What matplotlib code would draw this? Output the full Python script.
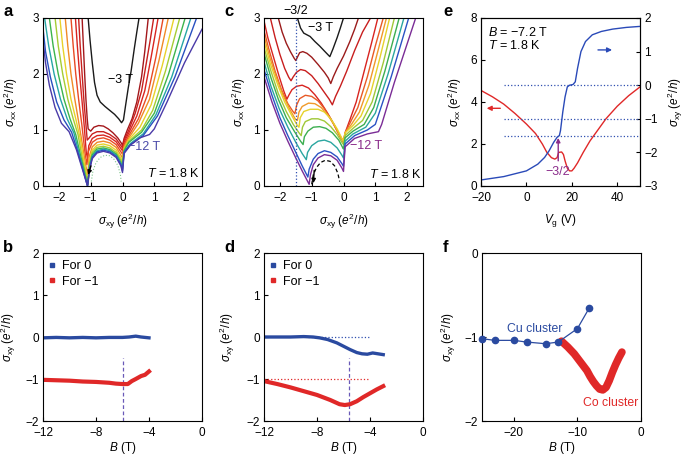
import matplotlib
matplotlib.use("Agg")
import matplotlib.pyplot as plt
from matplotlib.lines import Line2D

plt.rcParams['font.family'] = ['Liberation Sans', 'DejaVu Sans']
plt.rcParams['mathtext.fontset'] = 'custom'
plt.rcParams['mathtext.rm'] = 'Liberation Sans'
plt.rcParams['mathtext.it'] = 'Liberation Sans:italic'
plt.rcParams['font.size'] = 8.5
plt.rcParams['axes.linewidth'] = 0.8

# ---- panel a : sigma_xx vs sigma_xy, -3 T (black) ... -12 T
a_colors = ['#1a1a1a', '#a3171b', '#c8201e', '#d82420', '#e84a24', '#f08a26',
            '#e8d22a', '#a6cc34', '#3cb44c', '#26a6a6', '#2850c0', '#4a3aa8']
a_c0 = [(-1.08, 3.0), (-1.02, 2.6), (-0.95, 2.2), (-0.88, 1.85), (-0.8, 1.62), (-0.7, 1.5),
        (-0.55, 1.42), (-0.4, 1.35), (-0.25, 1.28), (-0.12, 1.2), (-0.03, 1.13), (0.03, 1.18),
        (0.1, 1.45), (0.18, 1.75), (0.27, 2.05), (0.37, 2.45), (0.45, 2.75), (0.52, 3.0)]
a_c1 = [(-1.27, 3.0), (-1.23, 2.5), (-1.19, 2.0), (-1.15, 1.55), (-1.11, 1.2), (-1.08, 1.02),
        (-1.0, 0.98), (-0.9, 1.05), (-0.75, 1.08), (-0.6, 1.07), (-0.45, 1.02), (-0.3, 0.95),
        (-0.15, 0.86), (-0.03, 0.76), (0.0, 0.72), (0.05, 0.85), (0.15, 1.0), (0.3, 1.2),
        (0.45, 1.5), (0.6, 1.95), (0.7, 2.4), (0.81, 3.0)]
a_c2 = [(-1.38, 3.0), (-1.33, 2.5), (-1.27, 2.0), (-1.21, 1.5), (-1.15, 1.1), (-1.11, 0.82),
        (-1.06, 0.85), (-0.95, 0.93), (-0.8, 0.97), (-0.6, 0.97), (-0.4, 0.92), (-0.2, 0.84),
        (-0.05, 0.72), (0.0, 0.68), (0.05, 0.82), (0.2, 1.0), (0.4, 1.3), (0.6, 1.7),
        (0.75, 2.2), (0.87, 2.6), (0.98, 3.0)]
a_c3 = [(-1.48, 3.0), (-1.42, 2.5), (-1.35, 2.0), (-1.27, 1.5), (-1.2, 1.05), (-1.14, 0.6),
        (-1.1, 0.5), (-1.06, 0.72), (-0.95, 0.85), (-0.8, 0.9), (-0.6, 0.91), (-0.4, 0.87),
        (-0.2, 0.79), (-0.05, 0.67), (0.0, 0.63), (0.05, 0.78), (0.2, 0.95), (0.45, 1.25),
        (0.7, 1.7), (0.9, 2.3), (1.12, 3.0)]
a_c4 = [(-1.62, 3.0), (-1.55, 2.5), (-1.47, 2.0), (-1.38, 1.55), (-1.28, 1.1), (-1.18, 0.6),
        (-1.12, 0.38), (-1.07, 0.62), (-0.95, 0.78), (-0.8, 0.84), (-0.6, 0.86), (-0.4, 0.82),
        (-0.2, 0.74), (-0.05, 0.61), (0.0, 0.57), (0.05, 0.74), (0.2, 0.9), (0.5, 1.2),
        (0.8, 1.65), (1.05, 2.3), (1.28, 3.0)]
a_c5 = [(-1.8, 3.0), (-1.72, 2.5), (-1.62, 2.0), (-1.5, 1.55), (-1.38, 1.15), (-1.25, 0.7),
        (-1.15, 0.35), (-1.09, 0.2), (-1.05, 0.52), (-0.95, 0.7), (-0.8, 0.78), (-0.6, 0.8),
        (-0.4, 0.77), (-0.2, 0.69), (-0.05, 0.55), (0.0, 0.5), (0.05, 0.7), (0.2, 0.86),
        (0.5, 1.12), (0.85, 1.55), (1.15, 2.25), (1.44, 3.0)]
a_c6 = [(-1.97, 3.0), (-1.88, 2.5), (-1.76, 2.0), (-1.62, 1.55), (-1.47, 1.2), (-1.33, 0.85),
        (-1.2, 0.4), (-1.08, 0.08), (-1.04, 0.45), (-0.95, 0.64), (-0.8, 0.73), (-0.6, 0.75),
        (-0.4, 0.72), (-0.2, 0.64), (-0.05, 0.5), (0.0, 0.44), (0.05, 0.67), (0.2, 0.83),
        (0.55, 1.05), (0.9, 1.45), (1.25, 2.15), (1.62, 3.0)]
a_c7 = [(-2.12, 3.0), (-2.02, 2.5), (-1.88, 2.0), (-1.72, 1.55), (-1.55, 1.2), (-1.4, 0.92),
        (-1.25, 0.45), (-1.08, 0.03), (-1.04, 0.4), (-0.95, 0.6), (-0.8, 0.69), (-0.6, 0.71),
        (-0.4, 0.68), (-0.2, 0.6), (-0.05, 0.46), (0.0, 0.4), (0.05, 0.65), (0.2, 0.8),
        (0.6, 1.0), (0.95, 1.35), (1.35, 2.05), (1.8, 3.0)]
a_c8 = [(-2.3, 3.0), (-2.18, 2.5), (-2.02, 2.0), (-1.84, 1.55), (-1.65, 1.2), (-1.47, 0.92),
        (-1.3, 0.5), (-1.1, 0.02), (-1.04, 0.36), (-0.95, 0.56), (-0.8, 0.66), (-0.6, 0.68),
        (-0.4, 0.65), (-0.2, 0.57), (-0.05, 0.42), (0.0, 0.35), (0.05, 0.63), (0.2, 0.78),
        (0.6, 0.96), (1.0, 1.3), (1.45, 2.0), (1.97, 3.0)]
a_c9 = [(-2.45, 3.0), (-2.32, 2.5), (-2.15, 2.0), (-1.95, 1.55), (-1.74, 1.2), (-1.53, 0.95),
        (-1.35, 0.55), (-1.1, 0.0), (-1.04, 0.32), (-0.95, 0.53), (-0.8, 0.63), (-0.6, 0.66),
        (-0.4, 0.63), (-0.2, 0.55), (-0.05, 0.4), (0.0, 0.3), (0.05, 0.61), (0.25, 0.76),
        (0.65, 0.93), (1.05, 1.27), (1.55, 1.95), (2.15, 3.0)]
a_c10 = [(-2.5, 2.82), (-2.42, 2.4), (-2.27, 1.95), (-2.07, 1.5), (-1.84, 1.18), (-1.6, 0.96),
         (-1.4, 0.6), (-1.1, 0.0), (-1.04, 0.3), (-0.95, 0.51), (-0.8, 0.61), (-0.6, 0.64),
         (-0.4, 0.61), (-0.2, 0.53), (-0.05, 0.38), (0.0, 0.27), (0.05, 0.6), (0.25, 0.74),
         (0.65, 0.9), (1.1, 1.25), (1.65, 1.95), (2.33, 3.0)]
a_c11 = [(-2.5, 2.6), (-2.42, 2.2), (-2.3, 1.8), (-2.12, 1.4), (-1.92, 1.12), (-1.68, 0.97),
         (-1.45, 0.65), (-1.1, 0.0), (-1.04, 0.28), (-0.95, 0.49), (-0.8, 0.59), (-0.6, 0.62),
         (-0.4, 0.59), (-0.2, 0.51), (-0.05, 0.36), (0.0, 0.24), (0.05, 0.58), (0.25, 0.73),
         (0.55, 0.86), (0.85, 0.92), (1.0, 1.02), (1.4, 1.5), (1.95, 2.2), (2.5, 2.8)]
a_curves = [a_c0, a_c1, a_c2, a_c3, a_c4, a_c5, a_c6, a_c7, a_c8, a_c9, a_c10, a_c11]
a_arc = [(-0.98, 0.08), (-0.93, 0.27), (-0.83, 0.42), (-0.7, 0.51), (-0.55, 0.55),
         (-0.4, 0.54), (-0.27, 0.48), (-0.15, 0.37), (-0.07, 0.22), (-0.04, 0.08)]

# ---- panel c
c_colors = ['#1a1a1a', '#9b1b1b', '#c81e1e', '#d82420', '#e85a26', '#f09a2a',
            '#e6d22c', '#a0c838', '#3cae50', '#2aa6a0', '#2a52c4', '#7a2c96']
c_c0 = [(-1.45, 3.0), (-1.35, 2.82), (-1.25, 2.73), (-1.15, 2.7), (-1.05, 2.67), (-0.9, 2.58),
        (-0.75, 2.5), (-0.6, 2.41), (-0.43, 2.31), (-0.33, 2.45), (-0.2, 2.65), (-0.1, 2.82),
        (0.0, 3.0)]
c_c1 = [(-2.05, 3.0), (-1.93, 2.75), (-1.8, 2.55), (-1.67, 2.4), (-1.55, 2.28), (-1.5, 2.24),
        (-1.45, 2.3), (-1.38, 2.38), (-1.28, 2.4), (-1.15, 2.37), (-1.0, 2.3), (-0.8, 2.17),
        (-0.6, 2.03), (-0.48, 1.93), (-0.4, 1.83), (-0.32, 1.95), (-0.2, 2.1), (0.0, 2.32),
        (0.2, 2.58), (0.35, 2.8), (0.47, 3.0)]
c_c2 = [(-2.3, 3.0), (-2.15, 2.65), (-2.0, 2.35), (-1.85, 2.1), (-1.72, 1.94), (-1.65, 1.88),
        (-1.58, 1.95), (-1.48, 2.03), (-1.35, 2.08), (-1.2, 2.06), (-1.0, 1.97), (-0.8, 1.83),
        (-0.6, 1.67), (-0.45, 1.55), (-0.35, 1.45), (-0.25, 1.6), (-0.1, 1.78), (0.1, 2.05),
        (0.35, 2.42), (0.6, 2.75), (0.85, 3.0)]
c_c3 = [(-2.5, 2.95), (-2.38, 2.65), (-2.2, 2.3), (-2.02, 1.95), (-1.88, 1.7), (-1.78, 1.55),
        (-1.72, 1.62), (-1.62, 1.72), (-1.48, 1.78), (-1.3, 1.8), (-1.1, 1.75), (-0.9, 1.63),
        (-0.7, 1.48), (-0.5, 1.3), (-0.3, 1.1), (-0.12, 0.9), (0.0, 0.79), (0.05, 0.95),
        (0.2, 1.18), (0.4, 1.5), (0.65, 2.05), (0.88, 2.55), (1.08, 3.0)]
c_c4 = [(-2.5, 2.78), (-2.35, 2.45), (-2.15, 2.05), (-1.95, 1.72), (-1.75, 1.47), (-1.6, 1.34),
        (-1.53, 1.29), (-1.47, 1.45), (-1.38, 1.56), (-1.2, 1.62), (-1.0, 1.6), (-0.8, 1.52),
        (-0.6, 1.38), (-0.4, 1.2), (-0.2, 0.98), (-0.05, 0.83), (0.0, 0.78), (0.05, 0.95),
        (0.2, 1.12), (0.45, 1.4), (0.75, 1.95), (1.0, 2.5), (1.25, 3.0)]
c_c5 = [(-2.5, 2.68), (-2.32, 2.3), (-2.1, 1.92), (-1.9, 1.62), (-1.7, 1.38), (-1.52, 1.2),
        (-1.45, 1.17), (-1.4, 1.32), (-1.3, 1.42), (-1.1, 1.48), (-0.9, 1.47), (-0.7, 1.4),
        (-0.5, 1.27), (-0.3, 1.1), (-0.12, 0.9), (0.0, 0.79), (0.05, 0.95), (0.25, 1.1),
        (0.5, 1.32), (0.8, 1.8), (1.1, 2.45), (1.35, 3.0)]
c_c6 = [(-2.5, 2.58), (-2.3, 2.18), (-2.05, 1.78), (-1.85, 1.5), (-1.62, 1.25), (-1.45, 1.08),
        (-1.4, 1.05), (-1.36, 1.22), (-1.25, 1.33), (-1.05, 1.37), (-0.8, 1.37), (-0.6, 1.32),
        (-0.4, 1.2), (-0.2, 1.02), (-0.05, 0.85), (0.0, 0.8), (0.05, 0.95), (0.3, 1.08),
        (0.55, 1.25), (0.85, 1.65), (1.15, 2.3), (1.45, 3.0)]
c_c7 = [(-2.5, 2.47), (-2.28, 2.05), (-2.05, 1.65), (-1.8, 1.33), (-1.58, 1.1), (-1.4, 0.95),
        (-1.33, 0.9), (-1.29, 1.05), (-1.2, 1.15), (-1.0, 1.2), (-0.8, 1.2), (-0.6, 1.16),
        (-0.4, 1.06), (-0.2, 0.92), (-0.05, 0.78), (0.0, 0.74), (0.05, 0.9), (0.3, 1.03),
        (0.6, 1.17), (0.9, 1.5), (1.25, 2.2), (1.6, 3.0)]
c_c8 = [(-2.5, 2.37), (-2.28, 1.93), (-2.05, 1.55), (-1.8, 1.22), (-1.55, 0.98), (-1.35, 0.8),
        (-1.27, 0.74), (-1.23, 0.88), (-1.12, 0.98), (-0.95, 1.05), (-0.75, 1.06), (-0.55, 1.03),
        (-0.35, 0.95), (-0.15, 0.82), (-0.03, 0.69), (0.0, 0.66), (0.05, 0.86), (0.3, 0.98),
        (0.65, 1.1), (0.95, 1.4), (1.3, 2.05), (1.75, 3.0)]
c_c9 = [(-2.5, 2.22), (-2.28, 1.78), (-2.02, 1.38), (-1.75, 1.05), (-1.5, 0.78), (-1.3, 0.58),
        (-1.17, 0.47), (-1.13, 0.6), (-1.0, 0.72), (-0.8, 0.8), (-0.6, 0.82), (-0.4, 0.78),
        (-0.2, 0.68), (-0.05, 0.55), (0.0, 0.5), (0.05, 0.8), (0.3, 0.93), (0.7, 1.05),
        (1.0, 1.3), (1.4, 2.0), (1.9, 3.0)]
c_c10 = [(-2.5, 2.08), (-2.25, 1.62), (-2.0, 1.22), (-1.75, 0.9), (-1.5, 0.6), (-1.3, 0.36),
         (-1.12, 0.16), (-1.08, 0.3), (-0.95, 0.48), (-0.8, 0.58), (-0.6, 0.63), (-0.4, 0.6),
         (-0.2, 0.52), (-0.05, 0.4), (0.0, 0.35), (0.05, 0.75), (0.35, 0.9), (0.75, 1.0),
         (1.0, 1.1), (1.5, 1.95), (2.05, 3.0)]
c_c11 = [(-2.5, 1.95), (-2.25, 1.5), (-2.0, 1.12), (-1.75, 0.8), (-1.5, 0.5), (-1.3, 0.27),
         (-1.08, 0.03), (-1.04, 0.2), (-0.95, 0.38), (-0.8, 0.5), (-0.6, 0.56), (-0.4, 0.54),
         (-0.2, 0.46), (-0.05, 0.32), (0.0, 0.26), (0.05, 0.7), (0.35, 0.85), (0.75, 0.93),
         (1.1, 0.97), (1.2, 1.1), (1.6, 1.85), (2.27, 3.0)]
c_curves = [c_c0, c_c1, c_c2, c_c3, c_c4, c_c5, c_c6, c_c7, c_c8, c_c9, c_c10, c_c11]
c_arc = [(-1.0, 0.03), (-0.95, 0.2), (-0.85, 0.33), (-0.72, 0.42), (-0.57, 0.46),
         (-0.42, 0.44), (-0.28, 0.36), (-0.18, 0.23), (-0.12, 0.08)]

# ---- panel e : gate sweep at B = -7.2 T
e_vg_xx = [-20, -15, -10, -5, 0, 4, 7, 9, 11, 12.5, 13.5, 14.2, 15.5, 16.3, 17, 18, 19,
           20, 21, 22.5, 25, 28, 31, 35, 40, 45, 50]
e_sxx = [4.55, 4.25, 3.9, 3.45, 2.95, 2.5, 2.0, 1.6, 1.35, 1.28, 1.35, 1.6, 1.62, 1.5, 1.2,
         0.85, 0.72, 0.72, 0.85, 1.1, 1.6, 2.15, 2.6, 3.2, 3.8, 4.3, 4.72]
e_vg_xy = [-20, -10, 0, 5, 8, 10, 12, 13.5, 14.5, 15, 16, 17, 18, 19, 20.5, 21.5, 22.5,
           24, 26, 29, 33, 38, 44, 50]
e_sxy = [-2.82, -2.72, -2.55, -2.35, -2.15, -1.95, -1.7, -1.55, -1.5, -1.35, -0.8, -0.35,
         -0.05, 0.0, 0.02, 0.1, 0.5, 1.0, 1.3, 1.5, 1.6, 1.67, 1.72, 1.75]
e_plateaus = [0, -1, -1.5]

# ---- panels b, d : sigma_xy vs B
b_B0 = [-12, -11, -10, -9, -8, -7, -6, -5.5, -5.0, -4.6, -4.0]
b_s0 = [-0.02, -0.01, -0.02, -0.01, -0.02, -0.01, -0.01, 0.0, 0.02, 0.0, -0.02]
b_B1 = [-12, -11, -10, -9, -8, -7, -6.5, -6, -5.6, -5.3, -5.0, -4.6, -4.3, -4.0]
b_s1 = [-1.02, -1.03, -1.04, -1.06, -1.07, -1.09, -1.11, -1.12, -1.12, -1.05, -1.0,
        -0.93, -0.9, -0.82]
b_Bmark = -6.0

d_B0 = [-12, -11, -10, -9, -8.3, -7.8, -7.2, -6.5, -6, -5.5, -5, -4.6, -4.2, -3.8, -3.4, -3]
d_s0 = [0.0, 0.0, 0.0, 0.01, 0.0, -0.02, -0.06, -0.14, -0.22, -0.3, -0.37, -0.4, -0.41,
        -0.38, -0.4, -0.42]
d_B1 = [-12, -11, -10, -9, -8, -7, -6.3, -5.9, -5.5, -5, -4.5, -4, -3.5, -3]
d_s1 = [-1.05, -1.12, -1.2, -1.29, -1.38, -1.5, -1.6, -1.62, -1.6, -1.53, -1.43, -1.34,
        -1.25, -1.17]
d_Bmark = -5.6

# ---- panel f
f_B_cu = [-25, -23, -20, -18, -15, -13, -10, -8.1]
f_s_cu = [-1.02, -1.04, -1.04, -1.06, -1.08, -1.06, -0.9, -0.65]
f_B_co = [-12.5, -11.5, -10.5, -9.5, -8.5, -8, -7.5, -7, -6.5, -6, -5.5, -5, -4.5, -4,
          -3.5, -3]
f_s_co = [-1.05, -1.12, -1.2, -1.3, -1.4, -1.47, -1.53, -1.58, -1.62, -1.63, -1.6, -1.52,
          -1.42, -1.33, -1.25, -1.18]

W, H = 685, 455
fig = plt.figure(figsize=(W / 100, H / 100), dpi=100)


def add_ax(l, t, r, b):
    return fig.add_axes([l / W, 1 - b / H, (r - l) / W, (b - t) / H])


def style(ax):
    ax.tick_params(direction='in', length=3, width=0.8, pad=3)
    ax.tick_params(axis='x', pad=4.5)


def arrow(ax, start, end, col, ms=7):
    ax.annotate('', xy=end, xytext=start,
                arrowprops=dict(arrowstyle='-|>', color=col, lw=1.0, mutation_scale=ms,
                                shrinkA=0, shrinkB=0))


sxx_lbl = r'$\sigma_{\rm xx}$ ($e^2$/$h$)'
sxy_lbl = r'$\sigma_{\rm xy}$ ($e^2$/$h$)'
RED = '#e02828'
BLUE = '#2a4aa0'

# a
ax = add_ax(43, 18, 202, 186)
style(ax)
for pts, col in zip(a_curves, a_colors):
    xs, ys = zip(*pts)
    ax.plot(xs, ys, color=col, lw=1.0)
xs, ys = zip(*a_arc)
ax.plot(xs, ys, color='#7cc48a', lw=0.8, ls=':')
arrow(ax, (-0.99, 0.36), (-1.08, 0.2), 'k', 6)
ax.text(-0.45, 1.9, '−3 T', va='center', fontsize=9)
ax.text(0.17, 0.7, '−12 T', va='center', fontsize=9, color='#4a4aa8')
ax.text(2.42, 0.22, r'$T$ = 1.8 K', ha='right', va='center', fontsize=9)
ax.set_xlim(-2.5, 2.5)
ax.set_ylim(0, 3)
ax.set_xticks([-2, -1, 0, 1, 2])
ax.set_yticks([0, 1, 2, 3])
ax.set_xlabel(sxy_lbl)
ax.set_ylabel(sxx_lbl)
ax.xaxis.set_label_coords(0.5, -0.155)
ax.yaxis.set_label_coords(-0.145, 0.5)

# c
ax = add_ax(264, 18, 423, 186)
style(ax)
for pts, col in zip(c_curves, c_colors):
    xs, ys = zip(*pts)
    ax.plot(xs, ys, color=col, lw=1.0)
xs, ys = zip(*c_arc)
ax.plot(xs, ys, color='k', lw=0.9, ls=(0, (3, 2)))
arrow(ax, (-0.92, 0.28), (-0.95, 0.05), 'k', 6)
ax.axvline(-1.5, color='#3050b0', lw=0.9, ls=':')
ax.text(-1.5, 3.13, '−3/2', ha='center', va='center', fontsize=9, clip_on=False)
ax.text(-1.12, 2.82, '−3 T', va='center', fontsize=9)
ax.text(0.2, 0.72, '−12 T', va='center', fontsize=9, color='#8a2a8a')
ax.text(2.45, 0.2, r'$T$ = 1.8 K', ha='right', va='center', fontsize=9)
ax.set_xlim(-2.5, 2.5)
ax.set_ylim(0, 3)
ax.set_xticks([-2, -1, 0, 1, 2])
ax.set_yticks([0, 1, 2, 3])
ax.set_xlabel(sxy_lbl)
ax.set_ylabel(sxx_lbl)
ax.xaxis.set_label_coords(0.5, -0.155)
ax.yaxis.set_label_coords(-0.1, 0.5)

# e
ax = add_ax(481, 18, 640, 186)
style(ax)
ax.plot(e_vg_xx, e_sxx, color=RED, lw=1.0)
ax.set_xlim(-20, 50)
ax.set_ylim(0, 8)
ax.set_xticks([-20, 0, 20, 40])
ax.set_yticks([0, 2, 4, 6, 8])
ax.set_xlabel(r'$V_{\rm g}$ (V)')
ax.set_ylabel(sxx_lbl)
ax.xaxis.set_label_coords(0.5, -0.155)
ax.yaxis.set_label_coords(-0.105, 0.5)
arrow(ax, (-11.5, 3.7), (-17.5, 3.7), RED)
ax.text(0.045, 0.915, r'$B$ = −7.2 T', transform=ax.transAxes, va='center', fontsize=9)
ax.text(0.045, 0.835, r'$T$ = 1.8 K', transform=ax.transAxes, va='center', fontsize=9)
ax2 = ax.twinx()
style(ax2)
for p in e_plateaus:
    ax2.plot([-10, 50], [p, p], color='#3050b0', lw=0.9, ls=':')
ax2.plot(e_vg_xy, e_sxy, color='#2a4ab8', lw=1.0)
ax2.set_ylim(-3, 2)
ax2.set_yticks([-3, -2, -1, 0, 1, 2])
ax2.set_ylabel(sxy_lbl, rotation=90)
ax2.yaxis.set_label_coords(1.165, 0.5)
arrow(ax2, (31.5, 1.05), (37.7, 1.05), '#2a4ab8')
arrow(ax2, (14, -2.25), (14, -1.57), '#8b2d8b', 6)
ax2.text(13.7, -2.57, '−3/2', ha='center', va='center', fontsize=9, color='#8b2d8b')

# b and d
for (l, r), B0, s0, B1, s1, Bm, dotted, ylx in [
        ((43, 202), b_B0, b_s0, b_B1, b_s1, b_Bmark, False, -0.155),
        ((264, 423), d_B0, d_s0, d_B1, d_s1, d_Bmark, True, -0.17)]:
    ax = add_ax(l, 253, r, 421)
    style(ax)
    if dotted:
        ax.plot([-8.7, -4.1], [0, 0], color='#3050b0', lw=0.9, ls=':')
        ax.plot([-12, -4.1], [-1, -1], color=RED, lw=0.9, ls=':')
    ax.plot([Bm, Bm], [-2, -0.5], color='#6a5ab8', lw=0.9, ls=(0, (3, 2)))
    ax.plot(B0, s0, color=BLUE, lw=2.4)
    ax.plot(B1, s1, color=RED, lw=3.0)
    ax.set_xlim(-12, 0)
    ax.set_ylim(-2, 2)
    ax.set_xticks([-12, -8, -4, 0])
    ax.set_yticks([-2, -1, 0, 1, 2])
    ax.set_xlabel(r'$B$ (T)')
    ax.set_ylabel(sxy_lbl)
    ax.xaxis.set_label_coords(0.5, -0.115)
    ax.yaxis.set_label_coords(ylx, 0.5)
    handles = [Line2D([], [], ls='none', marker='s', ms=2.5, color=BLUE),
               Line2D([], [], ls='none', marker='s', ms=2.5, color=RED)]
    ax.legend(handles, ['For 0', 'For −1'], loc='upper left', frameon=False,
              handlelength=0.4, handletextpad=0.6, borderaxespad=0.15,
              labelspacing=0.3, fontsize=9)

# f
ax = add_ax(482, 253, 641, 421)
style(ax)
ax.plot(f_B_co, f_s_co, color=RED, lw=5.5, solid_capstyle='round', zorder=2)
ax.plot(f_B_cu, f_s_cu, color=BLUE, lw=0.9, marker='o', ms=4.5, zorder=3,
        clip_on=False)
ax.text(-21, -0.9, 'Cu cluster', color=BLUE, fontsize=8.8, va='center')
ax.text(-9.1, -1.79, 'Co cluster', color=RED, fontsize=8.8, va='center')
ax.set_xlim(-25, 0)
ax.set_ylim(-2, 0)
ax.set_xticks([-20, -10, 0])
ax.set_yticks([-2, -1, 0])
ax.set_xlabel(r'$B$ (T)')
ax.set_ylabel(sxy_lbl)
ax.xaxis.set_label_coords(0.5, -0.115)
ax.yaxis.set_label_coords(-0.15, 0.5)

for lab, x, y in [('a', 3, 12), ('c', 224, 12), ('e', 443, 12),
                  ('b', 3, 248), ('d', 224, 248), ('f', 443, 248)]:
    fig.text(x / W, 1 - y / H, lab, fontsize=12, fontweight='bold', va='center')

fig.savefig('out.png', dpi=100)
